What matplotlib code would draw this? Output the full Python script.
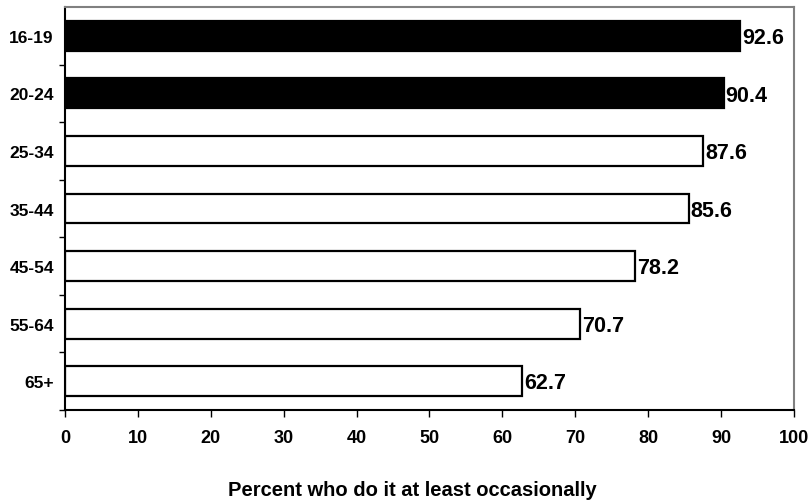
import matplotlib
matplotlib.use("Agg")
import matplotlib.pyplot as plt
import numpy as np

plt.rcParams['font.family'] = ['Liberation Sans', 'DejaVu Sans']

age_groups = ["16-19", "20-24", "25-34", "35-44", "45-54", "55-64", "65+"]
percent = [92.6, 90.4, 87.6, 85.6, 78.2, 70.7, 62.7]
highlight = [True, True, False, False, False, False, False]
x_ticks = [0, 10, 20, 30, 40, 50, 60, 70, 80, 90, 100]

fig = plt.figure(figsize=(8.1, 5.02), dpi=100)
ax = fig.add_axes([0.0802, 0.1813, 0.8999, 0.8027])

n = len(age_groups)
ypos = np.arange(n)[::-1]
colors = ['black' if h else 'white' for h in highlight]
ax.barh(ypos, percent, height=0.52, color=colors, edgecolor='black', linewidth=1.6)

for y, v in zip(ypos, percent):
    ax.text(v + 0.25, y - 0.03, f"{v:.1f}", va='center', ha='left',
            fontsize=15.5, fontweight='bold')

ax.set_xlim(0, 100)
ax.set_ylim(-0.5, n - 0.5)
ax.set_xticks(x_ticks)
ax.set_xticklabels([str(t) for t in x_ticks], fontsize=13, fontweight='bold')
ax.tick_params(axis='x', direction='out', length=5, width=1, pad=9)

ax.set_yticks(ypos)
ax.set_yticklabels(age_groups, fontsize=12.5, fontweight='bold')
ax.tick_params(axis='y', which='major', length=0, pad=8)
# category separators on the value axis (none at the very top)
ax.set_yticks(np.arange(-0.5, n - 1, 1.0), minor=True)
ax.tick_params(axis='y', which='minor', direction='out', length=4, width=1)

for side in ['left', 'bottom']:
    ax.spines[side].set_color('black')
    ax.spines[side].set_linewidth(1.5)
for side in ['top', 'right']:
    ax.spines[side].set_color('#808080')
    ax.spines[side].set_linewidth(1.5)

ax.set_xlabel("Percent who do it at least occasionally", fontsize=14.5,
              fontweight='bold', labelpad=24)
ax.xaxis.label.set_x(0.476)

fig.savefig("out.png", dpi=100)
